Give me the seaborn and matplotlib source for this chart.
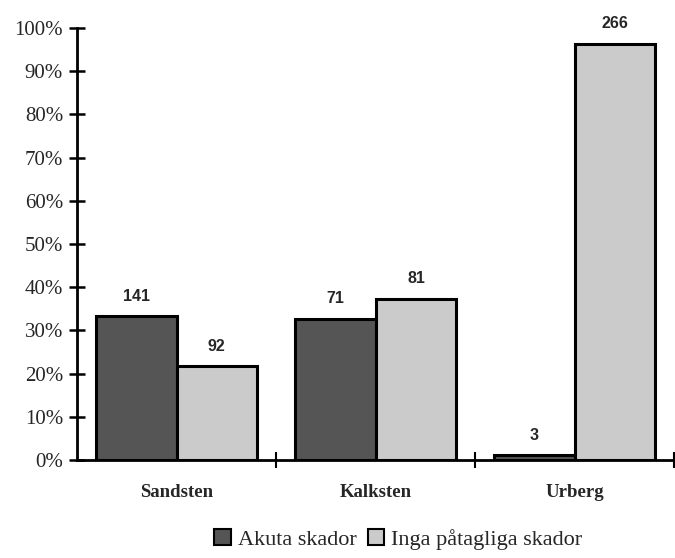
import matplotlib
matplotlib.use("Agg")
import matplotlib.pyplot as plt
import matplotlib.ticker as mticker
import seaborn as sns
import pandas as pd

# Observations per bedrock type
bergarter = ["Sandsten", "Kalksten", "Urberg"]
totalt = [424, 217, 276]            # all examined objects per bedrock type
akuta = [141, 71, 3]                # acute damage
inga = [92, 81, 266]                # no noticeable damage
serier = ["Akuta skador", "Inga påtagliga skador"]
y_ticks = [0, 10, 20, 30, 40, 50, 60, 70, 80, 90, 100]

rows = []
for namn, antal_lista in zip(serier, [akuta, inga]):
    for berg, antal, tot in zip(bergarter, antal_lista, totalt):
        rows.append({"Bergart": berg, "Serie": namn, "Antal": antal,
                     "Andel": 100.0 * antal / tot})
df = pd.DataFrame(rows)

sns.set_theme(style="white")
plt.rcParams["font.family"] = ["Liberation Serif", "DejaVu Serif"]

fig = plt.figure(figsize=(6.75, 5.58), dpi=100)
ax = fig.add_axes([0.114, 0.1756, 0.885, 0.7742])

palette = {"Akuta skador": "#555555", "Inga påtagliga skador": "#cbcbcb"}
sns.barplot(data=df, x="Bergart", y="Andel", hue="Serie", order=bergarter,
            hue_order=serier, palette=palette, width=0.81, saturation=1,
            edgecolor="black", linewidth=2.2, ax=ax, legend=True)

# count labels above each bar
for cont, namn in zip(ax.containers, serier):
    labels = df[df["Serie"] == namn].set_index("Bergart").loc[bergarter, "Antal"]
    ax.bar_label(cont, labels=[str(v) for v in labels], padding=9,
                 fontsize=11.5, fontweight="bold",
                 fontfamily="Liberation Sans")

ax.set_xlim(-0.5, 2.5)
ax.set_ylim(0, 100)
ax.set_yticks(y_ticks)
ax.yaxis.set_major_formatter(mticker.FuncFormatter(lambda v, p: f"{int(v)}%"))
ax.set_xlabel("")
ax.set_ylabel("")

for s in ["top", "right"]:
    ax.spines[s].set_visible(False)
for s in ["left", "bottom"]:
    ax.spines[s].set_linewidth(2)
    ax.spines[s].set_color("black")

ax.tick_params(axis="y", which="major", left=True, direction="inout",
               length=12, width=1.8, color="black", labelsize=15, pad=4)
ax.tick_params(axis="x", which="major", bottom=False, length=0,
               labelsize=13.5, pad=17)
ax.set_xticks([0.5, 1.5, 2.5], minor=True)
ax.tick_params(axis="x", which="minor", bottom=True, direction="inout",
               length=12, width=1.5, color="black")
for lbl in ax.get_xticklabels():
    lbl.set_fontweight("bold")

handles, lbls = ax.get_legend_handles_labels()
ax.get_legend().remove()
for h in handles:
    h.set_linewidth(1.5)
fig.legend(handles, lbls, loc="center", bbox_to_anchor=(0.59, 0.033), ncol=2,
           frameon=False, fontsize=16, handlelength=0.75, handleheight=0.75,
           handletextpad=0.3, columnspacing=0.5)

fig.savefig("out.png", dpi=100, facecolor="white")
